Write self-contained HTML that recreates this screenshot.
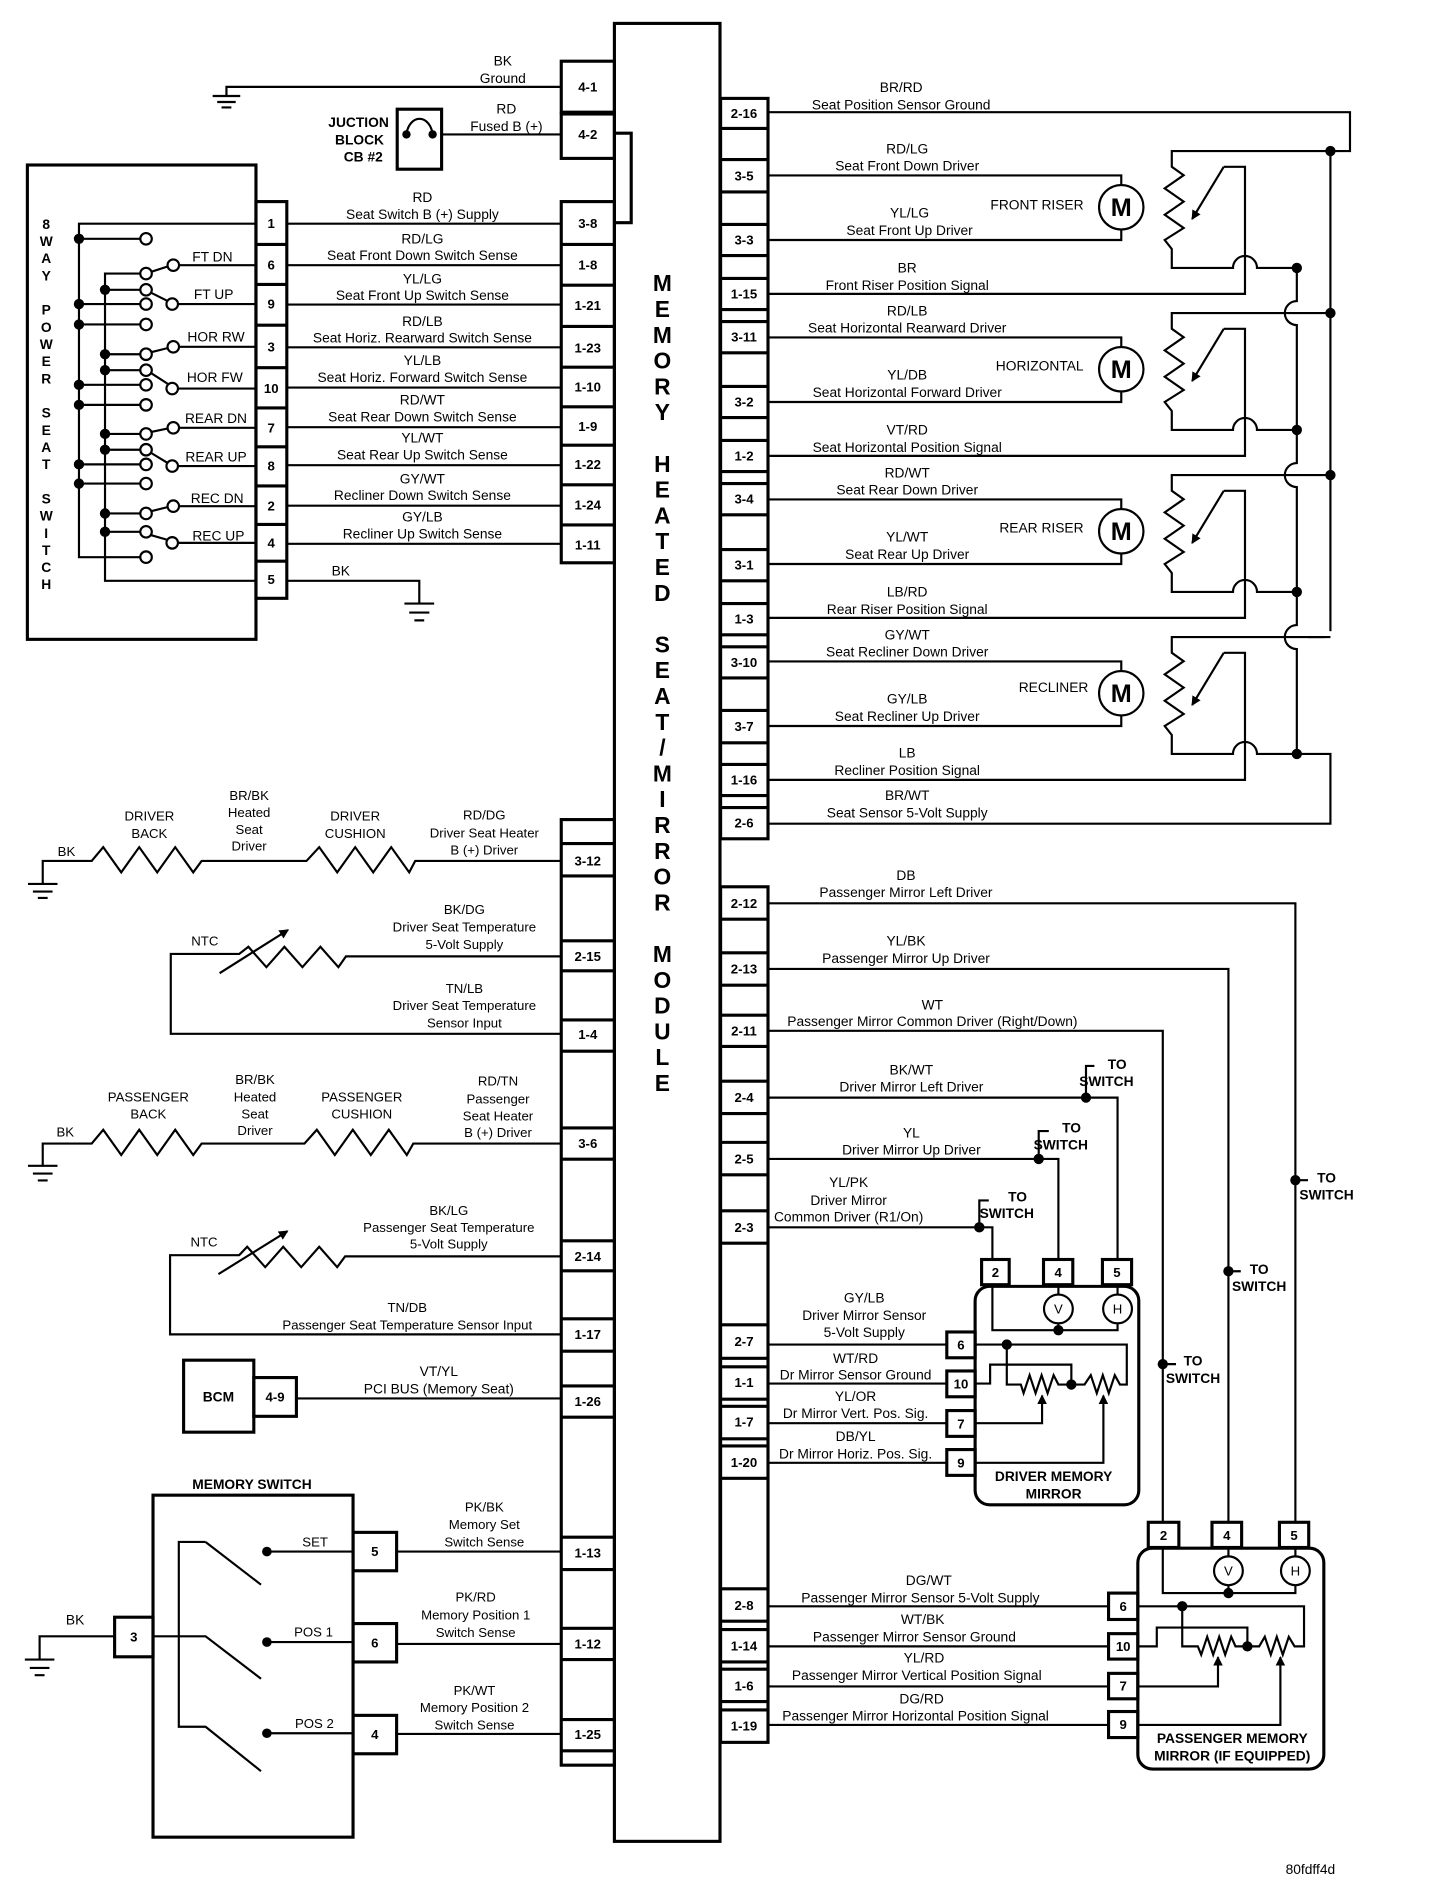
<!DOCTYPE html>
<html><head><meta charset="utf-8">
<style>
html,body{margin:0;padding:0;background:#fff;}
svg{display:block;}
text{font-family:"Liberation Sans",sans-serif;fill:#000;}
.t{font-size:11.5px;text-anchor:middle;dominant-baseline:central;}
.s{font-size:11px;text-anchor:middle;dominant-baseline:central;}
.p{font-size:11px;font-weight:bold;text-anchor:middle;dominant-baseline:central;}
.b{font-size:11.5px;font-weight:bold;text-anchor:middle;dominant-baseline:central;}
.v{font-size:19px;font-weight:bold;text-anchor:middle;dominant-baseline:central;}
.w{fill:none;stroke:#000;stroke-width:1.8;}
.k{fill:none;stroke:#000;stroke-width:2.6;}
.d{fill:#000;}
.o{fill:#fff;stroke:#000;stroke-width:1.8;}
</style></head>
<body>
<svg width="1440" height="1898" viewBox="0 0 1200 1581.7" xmlns="http://www.w3.org/2000/svg">
<defs>
<marker id="ar" markerWidth="8" markerHeight="8" refX="7" refY="4" orient="auto" markerUnits="userSpaceOnUse">
<path d="M0,0 L8,4 L0,8 z" fill="#000"/></marker>
</defs>
<rect width="1200" height="1582" fill="#fff"/>

<!-- MODULE -->
<rect x="512" y="19.5" width="88" height="1515" class="k"/>
<g class="v">
<text x="552" y="236">M</text><text x="552" y="257.5">E</text><text x="552" y="279">M</text><text x="552" y="300.5">O</text><text x="552" y="322">R</text><text x="552" y="343.5">Y</text>
<text x="552" y="386.5">H</text><text x="552" y="408">E</text><text x="552" y="429.5">A</text><text x="552" y="451">T</text><text x="552" y="472.5">E</text><text x="552" y="494">D</text>
<text x="552" y="537">S</text><text x="552" y="558.5">E</text><text x="552" y="580">A</text><text x="552" y="601.5">T</text><text x="552" y="623">/</text><text x="552" y="644.5">M</text><text x="552" y="666">I</text><text x="552" y="687.5">R</text><text x="552" y="709">R</text><text x="552" y="730.5">O</text><text x="552" y="752">R</text>
<text x="552" y="795">M</text><text x="552" y="816.5">O</text><text x="552" y="838">D</text><text x="552" y="859.5">U</text><text x="552" y="881">L</text><text x="552" y="902.5">E</text>
</g>
<path d="M512,111 H526 V185.6 H512" class="k"/>

<!-- LEFT COLUMN top -->
<rect x="467.7" y="51" width="44.3" height="42.5" class="k"/>
<rect x="467.7" y="95" width="44.3" height="37" class="k"/>
<rect x="467.7" y="168" width="44.3" height="301" class="k"/>
<path d="M467.7,203.7H512M467.7,237.7H512M467.7,272H512M467.7,306H512M467.7,339H512M467.7,371H512M467.7,404H512M467.7,437.5H512" class="k"/>
<rect x="467.7" y="683" width="44.3" height="788" class="k"/>
<path d="M467.7,703H512M467.7,730H512M467.7,784H512M467.7,809H512M467.7,850H512M467.7,876H512M467.7,940H512M467.7,966H512M467.7,1034H512M467.7,1059H512M467.7,1099H512M467.7,1126H512M467.7,1155H512M467.7,1181H512M467.7,1281H512M467.7,1308H512M467.7,1357H512M467.7,1383H512M467.7,1433H512M467.7,1459H512" class="k"/>
<g class="p">
<text x="489.8" y="72.5">4-1</text><text x="489.8" y="112">4-2</text>
<text x="489.8" y="186.4">3-8</text><text x="489.8" y="221">1-8</text><text x="489.8" y="254.4">1-21</text><text x="489.8" y="289.8">1-23</text><text x="489.8" y="322.4">1-10</text><text x="489.8" y="355.4">1-9</text><text x="489.8" y="387">1-22</text><text x="489.8" y="421">1-24</text><text x="489.8" y="454">1-11</text>
<text x="489.8" y="717.5">3-12</text><text x="489.8" y="797">2-15</text><text x="489.8" y="862">1-4</text><text x="489.8" y="953">3-6</text><text x="489.8" y="1047">2-14</text><text x="489.8" y="1112">1-17</text><text x="489.8" y="1168">1-26</text><text x="489.8" y="1294">1-13</text><text x="489.8" y="1370">1-12</text><text x="489.8" y="1445.5">1-25</text>
</g>

<!-- RIGHT COLUMN -->
<rect x="600.5" y="82" width="39.5" height="617" class="k"/>
<path d="M600.5,107H640M600.5,133H640M600.5,160H640M600.5,187H640M600.5,213H640M600.5,232H640M600.5,258H640M600.5,268H640M600.5,294H640M600.5,322H640M600.5,348H640M600.5,367H640M600.5,393H640M600.5,403H640M600.5,429H640M600.5,458H640M600.5,484H640M600.5,503H640M600.5,529H640M600.5,539H640M600.5,565H640M600.5,592H640M600.5,619H640M600.5,637H640M600.5,663H640M600.5,673H640" class="k"/>
<rect x="600.5" y="739" width="39.5" height="713" class="k"/>
<path d="M600.5,766H640M600.5,794H640M600.5,821H640M600.5,846H640M600.5,872H640M600.5,901H640M600.5,928H640M600.5,952H640M600.5,979H640M600.5,1009H640M600.5,1036H640M600.5,1104H640M600.5,1132H640M600.5,1139H640M600.5,1166H640M600.5,1172H640M600.5,1199H640M600.5,1205H640M600.5,1232H640M600.5,1324H640M600.5,1351H640M600.5,1358H640M600.5,1385H640M600.5,1391H640M600.5,1418H640M600.5,1425H640" class="k"/>
<g class="p">
<text x="620" y="94.5">2-16</text><text x="620" y="146.5">3-5</text><text x="620" y="200">3-3</text><text x="620" y="245">1-15</text><text x="620" y="281">3-11</text><text x="620" y="335">3-2</text><text x="620" y="380">1-2</text><text x="620" y="416">3-4</text><text x="620" y="471">3-1</text><text x="620" y="516">1-3</text><text x="620" y="552">3-10</text><text x="620" y="605.5">3-7</text><text x="620" y="650">1-16</text><text x="620" y="686">2-6</text>
<text x="620" y="752.8">2-12</text><text x="620" y="807.5">2-13</text><text x="620" y="859">2-11</text><text x="620" y="914.7">2-4</text><text x="620" y="965.8">2-5</text><text x="620" y="1022.8">2-3</text><text x="620" y="1118">2-7</text><text x="620" y="1152">1-1</text><text x="620" y="1185">1-7</text><text x="620" y="1218.6">1-20</text><text x="620" y="1337.8">2-8</text><text x="620" y="1371.5">1-14</text><text x="620" y="1405">1-6</text><text x="620" y="1438.5">1-19</text>
</g>

<!-- TOP LEFT: ground, junction block -->
<path d="M467.7,72.4 H188.7 V80 M177.2,80 H200.2 M181,85 H196.4 M184.6,89.5 H192.8" class="w"/>
<text class="t" x="419" y="51">BK</text><text class="t" x="419" y="65.6">Ground</text>
<rect x="331" y="91" width="37" height="50" class="k"/>
<path d="M338.7,112 A11,15 0 0 1 360.5,112" class="w"/>
<circle cx="338.7" cy="112" r="3.5" class="d"/><circle cx="360.5" cy="112" r="3.5" class="d"/>
<path d="M368,112 H467.7" class="w"/>
<text class="t" x="422" y="91">RD</text><text class="t" x="422" y="105.4">Fused B (+)</text>
<g class="b" style="text-anchor:end"><text x="324" y="102">JUCTION</text><text x="320" y="116.5">BLOCK</text><text x="319" y="131">CB #2</text></g>

<!-- SEAT SWITCH -->
<rect x="22.8" y="137.5" width="190.5" height="395.3" class="k"/>
<rect x="213.3" y="168" width="25.7" height="330.6" class="k"/>
<path d="M213.3,203.7H239M213.3,237H239M213.3,271H239M213.3,306.4H239M213.3,340H239M213.3,372.4H239M213.3,405H239M213.3,437H239M213.3,467.7H239" class="k"/>
<g class="p">
<text x="226" y="186.4">1</text><text x="226" y="221">6</text><text x="226" y="253.4">9</text><text x="226" y="289">3</text><text x="226" y="323.8">10</text><text x="226" y="356.5">7</text><text x="226" y="388.4">8</text><text x="226" y="421.8">2</text><text x="226" y="452.4">4</text><text x="226" y="483">5</text>
</g>
<g class="p" style="font-size:11.5px">
<text x="38.5" y="187">8</text><text x="38.5" y="201.3">W</text><text x="38.5" y="215.6">A</text><text x="38.5" y="229.9">Y</text>
<text x="38.5" y="258.5">P</text><text x="38.5" y="272.8">O</text><text x="38.5" y="287.1">W</text><text x="38.5" y="301.4">E</text><text x="38.5" y="315.7">R</text>
<text x="38.5" y="344.3">S</text><text x="38.5" y="358.6">E</text><text x="38.5" y="372.9">A</text><text x="38.5" y="387.2">T</text>
<text x="38.5" y="415.8">S</text><text x="38.5" y="430.1">W</text><text x="38.5" y="444.4">I</text><text x="38.5" y="458.7">T</text><text x="38.5" y="473">C</text><text x="38.5" y="487.3">H</text>
</g>
<!-- buses -->
<path d="M213.3,186.4 H65.8 V464.3 H116.7" class="w"/>
<path d="M116.7,228 H87.5 V484 H213.3" class="w"/>
<!-- A contacts -->
<path d="M65.8,199H116.7M65.8,253.4H116.7M65.8,270.4H116.7M65.8,320.7H116.7M65.8,337.4H116.7M65.8,387H116.7M65.8,403H116.7" class="w"/>
<!-- B contacts -->
<path d="M87.5,241.5H116.7M87.5,295.2H116.7M87.5,308.5H116.7M87.5,361.6H116.7M87.5,374.8H116.7M87.5,427.9H116.7M87.5,443.2H116.7" class="w"/>
<!-- arms and pin lines -->
<path d="M126,226.5 L140,222 M149.4,221 H213.3 M126,244 L140,251 M148.5,253.4 H213.3
M126,293.5 L140,290 M149.4,289 H213.3 M126,311 L140,320 M148.5,323.8 H213.3
M126,360 L140,357 M149.4,356.5 H213.3 M126,377.5 L140,386 M148.5,388.4 H213.3
M126,426 L140,422.5 M149.4,421.8 H213.3 M126,446 L140,450 M148.5,452.4 H213.3" class="w"/>
<g class="o">
<circle cx="121.7" cy="199" r="4.8"/><circle cx="121.7" cy="228" r="4.8"/><circle cx="144.4" cy="221" r="4.8"/><circle cx="121.7" cy="241.5" r="4.8"/><circle cx="143.5" cy="253.4" r="4.8"/><circle cx="121.7" cy="253.4" r="4.8"/>
<circle cx="121.7" cy="270.4" r="4.8"/><circle cx="121.7" cy="295.2" r="4.8"/><circle cx="144.4" cy="289" r="4.8"/><circle cx="121.7" cy="308.5" r="4.8"/><circle cx="143.5" cy="323.8" r="4.8"/><circle cx="121.7" cy="320.7" r="4.8"/>
<circle cx="121.7" cy="337.4" r="4.8"/><circle cx="121.7" cy="361.6" r="4.8"/><circle cx="144.4" cy="356.5" r="4.8"/><circle cx="121.7" cy="374.8" r="4.8"/><circle cx="143.5" cy="388.4" r="4.8"/><circle cx="121.7" cy="387" r="4.8"/>
<circle cx="121.7" cy="403" r="4.8"/><circle cx="121.7" cy="427.9" r="4.8"/><circle cx="144.4" cy="421.8" r="4.8"/><circle cx="121.7" cy="443.2" r="4.8"/><circle cx="143.5" cy="452.4" r="4.8"/><circle cx="121.7" cy="464.3" r="4.8"/>
</g>
<g class="d">
<circle cx="65.8" cy="199" r="4.3"/><circle cx="65.8" cy="253.4" r="4.3"/><circle cx="65.8" cy="270.4" r="4.3"/><circle cx="65.8" cy="320.7" r="4.3"/><circle cx="65.8" cy="337.4" r="4.3"/><circle cx="65.8" cy="387" r="4.3"/><circle cx="65.8" cy="403" r="4.3"/>
<circle cx="87.5" cy="241.5" r="4.3"/><circle cx="87.5" cy="295.2" r="4.3"/><circle cx="87.5" cy="308.5" r="4.3"/><circle cx="87.5" cy="361.6" r="4.3"/><circle cx="87.5" cy="374.8" r="4.3"/><circle cx="87.5" cy="427.9" r="4.3"/><circle cx="87.5" cy="443.2" r="4.3"/>
</g>
<g class="t">
<text x="177" y="214">FT DN</text><text x="178" y="245.6">FT UP</text><text x="180" y="281">HOR RW</text><text x="179" y="314.6">HOR FW</text><text x="180" y="348.6">REAR DN</text><text x="180" y="381">REAR UP</text><text x="181" y="415.6">REC DN</text><text x="182" y="446.6">REC UP</text>
</g>
<!-- seat switch wires -->
<path d="M239,186.4H467.7M239,221H467.7M239,253.8H467.7M239,289.4H467.7M239,323H467.7M239,356H467.7M239,387.7H467.7M239,421.4H467.7M239,453.2H467.7" class="w"/>
<path d="M239,484 H349.4 V503 M337,503 H361.8 M341,510.5 H357.8 M345.3,517 H353.5" class="w"/>
<text class="t" x="284" y="476">BK</text>
<g class="t">
<text x="352" y="164.4">RD</text><text x="352" y="178.6">Seat Switch B (+) Supply</text>
<text x="352" y="199">RD/LG</text><text x="352" y="213">Seat Front Down Switch Sense</text>
<text x="352" y="232.4">YL/LG</text><text x="352" y="246.4">Seat Front Up Switch Sense</text>
<text x="352" y="267.8">RD/LB</text><text x="352" y="281.8">Seat Horiz. Rearward Switch Sense</text>
<text x="352" y="300.4">YL/LB</text><text x="352" y="314.4">Seat Horiz. Forward Switch Sense</text>
<text x="352" y="333.4">RD/WT</text><text x="352" y="347.4">Seat Rear Down Switch Sense</text>
<text x="352" y="365">YL/WT</text><text x="352" y="379">Seat Rear Up Switch Sense</text>
<text x="352" y="399">GY/WT</text><text x="352" y="413">Recliner Down Switch Sense</text>
<text x="352" y="431">GY/LB</text><text x="352" y="445">Recliner Up Switch Sense</text>
</g>

<!-- RIGHT UPPER: motors and pots -->
<path d="M640,93.5 H1125 V125.9 H1108.7" class="w"/>
<text class="t" x="751" y="72.8">BR/RD</text><text class="t" x="751" y="87.3">Seat Position Sensor Ground</text>
<path d="M1108.7,125.9 V530.9" class="w"/>
<path d="M1080.7,223.3 V250.9 A10,10 0 0 0 1080.7,270.9 V385.9 A10,10 0 0 0 1080.7,405.9 V520.9 A10,10 0 0 0 1080.7,540.9 V628.3 H1108.7 V686.4 H640" class="w"/>
<g id="grp">
<path d="M640,146.2 H934.4 V154.2 M640,200 H934.4 V191.2" class="w"/>
<circle cx="934.4" cy="172.7" r="18.5" class="o"/>
<text x="934.4" y="173.5" style="font-size:21px;font-weight:bold;text-anchor:middle;dominant-baseline:central">M</text>
<path d="M640,244.9 H1037.5 V139 H1019.8" class="w"/>
<path d="M1019.8,139 L993.5,182.5" class="w" marker-end="url(#ar)"/>
<path d="M1108.7,125.9 H976.5 V139 L986.4,146 L970.6,157 L986.4,168 L970.6,179 L986.4,190 L970.6,200 L976.5,207.5 V223.3 H1027.5 A10,10 0 0 1 1047.5,223.3 H1080.7" class="w"/>
<circle cx="1080.7" cy="223.3" r="4.3" class="d"/>
</g>
<use href="#grp" transform="translate(0,135)"/>
<use href="#grp" transform="translate(0,270)"/>
<use href="#grp" transform="translate(0,405)"/>
<rect x="1104" y="526" width="10" height="10" fill="#fff"/>
<path d="M1108.7,530.9 H1090" class="w"/>
<circle cx="1108.7" cy="125.9" r="4.3" class="d"/><circle cx="1108.7" cy="260.9" r="4.3" class="d"/><circle cx="1108.7" cy="395.9" r="4.3" class="d"/>
<g class="t" style="text-anchor:end">
<text x="903" y="171">FRONT RISER</text><text x="903" y="305">HORIZONTAL</text><text x="903" y="440">REAR RISER</text><text x="907" y="573">RECLINER</text>
</g>
<g class="t">
<text x="756" y="124">RD/LG</text><text x="756" y="138.3">Seat Front Down Driver</text>
<text x="758" y="177.7">YL/LG</text><text x="758" y="192.2">Seat Front Up Driver</text>
<text x="756" y="223.3">BR</text><text x="756" y="237.8">Front Riser Position Signal</text>
<text x="756" y="259">RD/LB</text><text x="756" y="273.5">Seat Horizontal Rearward Driver</text>
<text x="756" y="312.7">YL/DB</text><text x="756" y="327.2">Seat Horizontal Forward Driver</text>
<text x="756" y="358.3">VT/RD</text><text x="756" y="372.8">Seat Horizontal Position Signal</text>
<text x="756" y="394">RD/WT</text><text x="756" y="408.3">Seat Rear Down Driver</text>
<text x="756" y="447.7">YL/WT</text><text x="756" y="462.2">Seat Rear Up Driver</text>
<text x="756" y="493.3">LB/RD</text><text x="756" y="507.8">Rear Riser Position Signal</text>
<text x="756" y="529">GY/WT</text><text x="756" y="543.3">Seat Recliner Down Driver</text>
<text x="756" y="582.7">GY/LB</text><text x="756" y="597.2">Seat Recliner Up Driver</text>
<text x="756" y="627.5">LB</text><text x="756" y="642">Recliner Position Signal</text>
<text x="756" y="662.8">BR/WT</text><text x="756" y="677.5">Seat Sensor 5-Volt Supply</text>
</g>

<!-- LEFT LOWER: heaters -->
<path d="M467.7,717.5 H346 L341,727 L326,706 L311,727 L296,706 L281,727 L266,706 L255.4,717.5 H168 L161,727 L146,706 L131,727 L116,706 L101,727 L86,706 L76.4,717.5 H35.6 V736.6 M23.3,736.6 H47.9 M27.4,743 H43.8 M31.5,748.3 H39.7" class="w"/>
<g class="s">
<text x="55.4" y="709.5">BK</text>
<text x="124.5" y="680">DRIVER</text><text x="124.5" y="694.6">BACK</text>
<text x="207.6" y="663">BR/BK</text><text x="207.6" y="677">Heated</text><text x="207.6" y="691.4">Seat</text><text x="207.6" y="705">Driver</text>
<text x="296" y="680">DRIVER</text><text x="296" y="694.6">CUSHION</text>
<text x="403.6" y="679">RD/DG</text><text x="403.6" y="694">Driver Seat Heater</text><text x="403.6" y="708.5">B (+) Driver</text>
</g>
<path d="M467.7,797 H288.3 L282,806 L267,789 L252,806 L237,789 L222,806 L207,789 L199.3,795 H142.3 V861.5 H467.7" class="w"/>
<path d="M183,811 L240,775" class="w" marker-end="url(#ar)"/>
<g class="s">
<text x="170.7" y="784">NTC</text>
<text x="387" y="758">BK/DG</text><text x="387" y="772.7">Driver Seat Temperature</text><text x="387" y="787">5-Volt Supply</text>
<text x="387" y="823.7">TN/LB</text><text x="387" y="838">Driver Seat Temperature</text><text x="387" y="852.4">Sensor Input</text>
</g>
<path d="M467.7,953 H344.4 L339,962.5 L324,941.5 L309,962.5 L294,941.5 L279,962.5 L264,941.5 L253.7,953 H168 L161,962.5 L146,941.5 L131,962.5 L116,941.5 L101,962.5 L86,941.5 L76.4,953 H35.6 V971.5 M23.3,971.5 H47.9 M27.4,978 H43.8 M31.5,983.7 H39.7" class="w"/>
<g class="s">
<text x="54.4" y="943.3">BK</text>
<text x="123.6" y="914">PASSENGER</text><text x="123.6" y="928.4">BACK</text>
<text x="212.5" y="899.7">BR/BK</text><text x="212.5" y="914">Heated</text><text x="212.5" y="928.4">Seat</text><text x="212.5" y="942.2">Driver</text>
<text x="301.5" y="914">PASSENGER</text><text x="301.5" y="928.4">CUSHION</text>
<text x="415" y="900.8">RD/TN</text><text x="415" y="915.7">Passenger</text><text x="415" y="930">Seat Heater</text><text x="415" y="943.8">B (+) Driver</text>
</g>
<path d="M467.7,1047 H287.6 L281,1056 L266,1039 L251,1056 L236,1039 L221,1056 L206,1039 L199.3,1046 H141.7 V1112 H467.7" class="w"/>
<path d="M182,1061.8 L239.5,1026" class="w" marker-end="url(#ar)"/>
<g class="s">
<text x="170" y="1035">NTC</text>
<text x="374" y="1008.7">BK/LG</text><text x="374" y="1023">Passenger Seat Temperature</text><text x="374" y="1036.8">5-Volt Supply</text>
<text x="339.4" y="1089.4">TN/DB</text><text x="339.4" y="1104.3">Passenger Seat Temperature Sensor Input</text>
</g>
<!-- BCM -->
<rect x="153" y="1133.5" width="58.5" height="60" class="k"/>
<rect x="211.5" y="1148" width="35.5" height="32.3" class="k"/>
<text class="b" x="182" y="1164.3">BCM</text><text class="p" x="229.2" y="1164.3">4-9</text>
<path d="M247,1165.4 H467.7" class="w"/>
<text class="t" x="365.7" y="1143">VT/YL</text><text class="t" x="365.7" y="1157.5">PCI BUS (Memory Seat)</text>

<!-- MEMORY SWITCH -->
<text class="b" x="210" y="1237">MEMORY SWITCH</text>
<rect x="127.5" y="1246" width="166.7" height="285" class="k"/>
<rect x="294.2" y="1277" width="36.3" height="32" class="k"/>
<rect x="294.2" y="1353" width="36.3" height="32" class="k"/>
<rect x="294.2" y="1429.5" width="36.3" height="32" class="k"/>
<rect x="95.5" y="1347.7" width="32" height="33" class="k"/>
<g class="p"><text x="312.3" y="1293">5</text><text x="312.3" y="1369">6</text><text x="312.3" y="1445.5">4</text><text x="111.5" y="1364">3</text></g>
<path d="M95.5,1363.6 H33 V1383 M20.7,1383 H45.3 M24.8,1390 H41.2 M28.9,1396 H37.1" class="w"/>
<text class="t" x="62.6" y="1350">BK</text>
<path d="M127.5,1363.6 H171.3 L217.5,1399 M149,1363.6 M171.3,1285 H149 V1439 H171.3 L217.5,1476 M171.3,1285 L217.5,1320.6" class="w"/>
<path d="M222.4,1293 H294.2 M222.4,1368.4 H294.2 M222.4,1444.4 H294.2" class="w"/>
<circle cx="222.4" cy="1293" r="4" class="d"/><circle cx="222.4" cy="1368.4" r="4" class="d"/><circle cx="222.4" cy="1444.4" r="4" class="d"/>
<g class="s"><text x="262.6" y="1285">SET</text><text x="261.3" y="1360">POS 1</text><text x="262" y="1436.4">POS 2</text></g>
<path d="M330.5,1293 H467.7 M330.5,1370 H467.7 M330.5,1445 H467.7" class="w"/>
<g class="s">
<text x="403.6" y="1255.7">PK/BK</text><text x="403.6" y="1270.6">Memory Set</text><text x="403.6" y="1285">Switch Sense</text>
<text x="396.4" y="1331">PK/RD</text><text x="396.4" y="1346">Memory Position 1</text><text x="396.4" y="1360.4">Switch Sense</text>
<text x="395.4" y="1408.8">PK/WT</text><text x="395.4" y="1423">Memory Position 2</text><text x="395.4" y="1437.5">Switch Sense</text>
</g>

<!-- RIGHT LOWER: mirrors -->
<path d="M640,752.8 H1079.5 V1268.6 M640,807.5 H1023.7 V1268.6 M640,859 H969 V1268.6" class="w"/>
<g class="t">
<text x="755" y="729.7">DB</text><text x="755" y="743.9">Passenger Mirror Left Driver</text>
<text x="755" y="784">YL/BK</text><text x="755" y="798.6">Passenger Mirror Up Driver</text>
<text x="777" y="837.5">WT</text><text x="777" y="851.4">Passenger Mirror Common Driver (Right/Down)</text>
</g>
<!-- to switch dots -->
<path d="M1079.5,983.5 H1090 M1023.7,1059.4 H1034 M969,1136.8 H980" class="w"/>
<circle cx="1079.5" cy="983.5" r="4.3" class="d"/><circle cx="1023.7" cy="1059.4" r="4.3" class="d"/><circle cx="969" cy="1136.8" r="4.3" class="d"/>
<g class="b">
<text x="1105.5" y="981.5">TO</text><text x="1105.5" y="995.7">SWITCH</text>
<text x="1049.3" y="1058">TO</text><text x="1049.3" y="1072">SWITCH</text>
<text x="994.2" y="1134">TO</text><text x="994.2" y="1148.6">SWITCH</text>
</g>
<!-- driver mirror wires -->
<path d="M640,914.7 H931.3 V1049.6 M640,965.8 H882 V1049.6 M640,1022.8 H827 V1049.6" class="w"/>
<path d="M905,914.7 V888.3 H912 M865.6,965.8 V942.6 H874 M816.1,1022.8 V1000.4 H824" class="w"/>
<circle cx="905" cy="914.7" r="4.3" class="d"/><circle cx="865.6" cy="965.8" r="4.3" class="d"/><circle cx="816.1" cy="1022.8" r="4.3" class="d"/>
<g class="b">
<text x="931" y="887">TO</text><text x="922" y="901.3">SWITCH</text>
<text x="893" y="940">TO</text><text x="884" y="954">SWITCH</text>
<text x="848" y="997.6">TO</text><text x="839" y="1011.4">SWITCH</text>
</g>
<g class="t">
<text x="759.5" y="891.5">BK/WT</text><text x="759.5" y="906">Driver Mirror Left Driver</text>
<text x="759.5" y="944">YL</text><text x="759.5" y="958.3">Driver Mirror Up Driver</text>
<text x="707.2" y="985.5">YL/PK</text><text x="707.2" y="1000.4">Driver Mirror</text><text x="707.2" y="1014.2">Common Driver (R1/On)</text>
<text x="720.2" y="1081.8">GY/LB</text><text x="720.2" y="1096.3">Driver Mirror Sensor</text><text x="720.2" y="1110.5">5-Volt Supply</text>
<text x="713" y="1132">WT/RD</text><text x="713" y="1146">Dr Mirror Sensor Ground</text>
<text x="713" y="1163.6">YL/OR</text><text x="713" y="1178">Dr Mirror Vert. Pos. Sig.</text>
<text x="713" y="1197">DB/YL</text><text x="713" y="1211.6">Dr Mirror Horiz. Pos. Sig.</text>
</g>
<rect x="812.6" y="1072" width="136.4" height="182" rx="12" class="k"/>
<rect x="818" y="1049.6" width="23" height="21" class="k"/><rect x="869.6" y="1049.6" width="24.4" height="21" class="k"/><rect x="918.7" y="1049.6" width="24.3" height="21" class="k"/>
<g class="p"><text x="829.5" y="1060.5">2</text><text x="881.8" y="1060.5">4</text><text x="930.8" y="1060.5">5</text></g>
<path d="M827,1070.6 V1108.5 H931.3 V1102.8 M882,1102.8 V1108.5 M882,1070.6 V1078.8 M931.3,1070.6 V1078.8" class="w"/>
<circle cx="882" cy="1090.8" r="12" class="o"/><circle cx="931.3" cy="1090.8" r="12" class="o"/>
<text class="s" x="882" y="1091">V</text><text class="s" x="931.3" y="1091">H</text>
<circle cx="882" cy="1108.5" r="4.3" class="d"/>
<rect x="789" y="1110" width="23.6" height="21.5" class="k"/><rect x="789" y="1142.5" width="23.6" height="21.5" class="k"/><rect x="789" y="1175.5" width="23.6" height="21.5" class="k"/><rect x="789" y="1208" width="23.6" height="21.5" class="k"/>
<g class="p"><text x="800.8" y="1121">6</text><text x="800.8" y="1153.5">10</text><text x="800.8" y="1186.5">7</text><text x="800.8" y="1219">9</text></g>
<path d="M640,1120.5 H789 M640,1153 H789 M640,1186 H789 M640,1219 H789" class="w"/>
<path d="M812.6,1120.5 H939 V1153.8 H933.3 L929,1146 L924,1161 L919,1146 L914,1161 L909,1146 L903.8,1153.8 H882 L878,1146 L873,1161 L868,1146 L863,1161 L858,1146 L853,1161 L850.7,1153.8 H839 V1120.5" class="w"/>
<path d="M812.6,1153 H825.1 V1137.2 H892.8 V1153.8" class="w"/>
<circle cx="839" cy="1120.5" r="4.3" class="d"/><circle cx="892.8" cy="1153.8" r="4.3" class="d"/>
<path d="M812.6,1186 H868.4 V1163" class="w" marker-end="url(#ar)"/>
<path d="M812.6,1219 H919.5 V1163" class="w" marker-end="url(#ar)"/>
<text class="b" x="878" y="1230.4">DRIVER MEMORY</text><text class="b" x="878" y="1245">MIRROR</text>
<!-- passenger mirror -->
<rect x="948.2" y="1290.2" width="155" height="184" rx="12" class="k"/>
<rect x="956.9" y="1268.6" width="25.5" height="21" class="k"/><rect x="1010" y="1268.6" width="24.7" height="21" class="k"/><rect x="1066.2" y="1268.6" width="24.4" height="21" class="k"/>
<g class="p"><text x="969.6" y="1279.5">2</text><text x="1022.4" y="1279.5">4</text><text x="1078.4" y="1279.5">5</text></g>
<path d="M969,1289.6 V1327.6 H1079.5 V1321 M1023.7,1321 V1327.6 M1023.7,1289.6 V1297 M1079.5,1289.6 V1297" class="w"/>
<circle cx="1023.7" cy="1309" r="12" class="o"/><circle cx="1079.5" cy="1309" r="12" class="o"/>
<text class="s" x="1023.7" y="1309.3">V</text><text class="s" x="1079.5" y="1309.3">H</text>
<circle cx="1023.7" cy="1327.6" r="4.3" class="d"/>
<rect x="923.8" y="1327.6" width="24.4" height="22" class="k"/><rect x="923.8" y="1361.4" width="24.4" height="21.2" class="k"/><rect x="923.8" y="1394.5" width="24.4" height="21.2" class="k"/><rect x="923.8" y="1426.3" width="24.4" height="21.7" class="k"/>
<g class="p"><text x="936" y="1338.6">6</text><text x="936" y="1372">10</text><text x="936" y="1405.2">7</text><text x="936" y="1437.2">9</text></g>
<path d="M640,1338.6 H923.8 M640,1372 H923.8 M640,1405.4 H923.8 M640,1437.5 H923.8" class="w"/>
<path d="M948.2,1338.6 H1086.7 V1372 H1078.8 L1074,1364 L1069,1379 L1064,1364 L1059,1379 L1054,1364 L1049.3,1372 H1029.6 L1026,1364 L1021,1379 L1016,1364 L1011,1379 L1006,1364 L1001,1379 L998.2,1372 H985.2 V1338.6" class="w"/>
<path d="M948.2,1372 H964 V1356.3 H1039.5 V1372" class="w"/>
<circle cx="985.2" cy="1338.6" r="4.3" class="d"/><circle cx="1039.5" cy="1372" r="4.3" class="d"/>
<path d="M948.2,1405.4 H1015 V1381" class="w" marker-end="url(#ar)"/>
<path d="M948.2,1437.5 H1067 V1381" class="w" marker-end="url(#ar)"/>
<text class="b" x="1026.9" y="1448.7">PASSENGER MEMORY</text><text class="b" x="1026.9" y="1463.2">MIRROR (IF EQUIPPED)</text>
<g class="t">
<text x="774" y="1317">DG/WT</text><text x="767" y="1331.5">Passenger Mirror Sensor 5-Volt Supply</text>
<text x="768.9" y="1349.6">WT/BK</text><text x="762" y="1364">Passenger Mirror Sensor Ground</text>
<text x="770" y="1381.8">YL/RD</text><text x="764" y="1396.4">Passenger Mirror Vertical Position Signal</text>
<text x="768" y="1416">DG/RD</text><text x="763" y="1430">Passenger Mirror Horizontal Position Signal</text>
</g>
<text class="t" x="1092" y="1558">80fdff4d</text>
</svg>
</body></html>
